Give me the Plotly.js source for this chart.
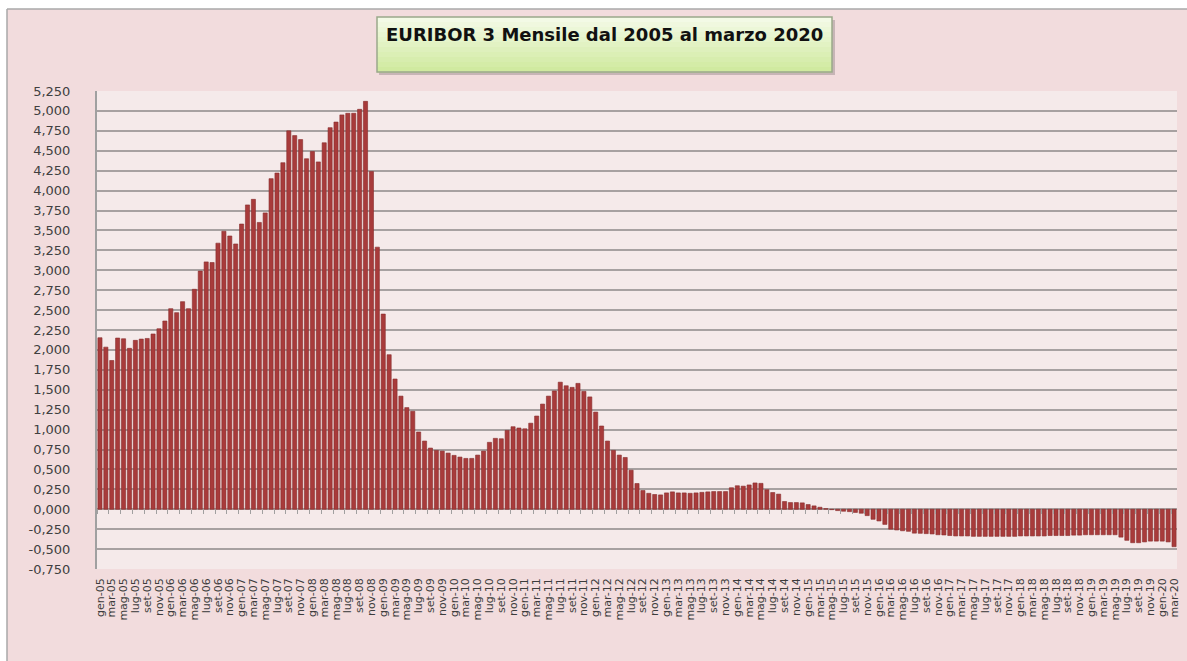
<!DOCTYPE html>
<html>
<head>
<meta charset="utf-8">
<script src="https://cdn.plot.ly/plotly-3.0.1.min.js"></script>
<style>
html,body{margin:0;padding:0;background:#ffffff;}
#chart{width:1187px;height:661px;}
</style>
</head>
<body>
<div id="chart"></div>
<script>
// ---- data ----
const monthNames = ['gen','feb','mar','apr','mag','giu','lug','ago','set','ott','nov','dic'];
const startYear = 2005;
const monthCount = 183; // gen-05 .. mar-20

const euribor3m = [
  2.153, 2.035, 1.867, 2.149, 2.140, 2.020, 2.120, 2.136, 2.144, 2.200, 2.266, 2.363,
  2.518, 2.468, 2.606, 2.518, 2.761, 2.990, 3.105, 3.097, 3.340, 3.490, 3.430, 3.330,
  3.580, 3.820, 3.890, 3.600, 3.720, 4.150, 4.220, 4.350, 4.750, 4.690, 4.640, 4.400,
  4.490, 4.360, 4.600, 4.790, 4.860, 4.950, 4.970, 4.970, 5.020, 5.120, 4.240, 3.290,
  2.450, 1.940, 1.635, 1.420, 1.276, 1.230, 0.970, 0.856, 0.768, 0.739, 0.730, 0.705,
  0.676, 0.655, 0.638, 0.638, 0.680, 0.730, 0.840, 0.890, 0.885, 0.990, 1.036, 1.020,
  1.010, 1.080, 1.170, 1.320, 1.420, 1.485, 1.595, 1.550, 1.530, 1.580, 1.480, 1.410,
  1.220, 1.045, 0.856, 0.739, 0.680, 0.650, 0.490, 0.323, 0.235, 0.200, 0.185, 0.180,
  0.205, 0.218, 0.205, 0.205, 0.200, 0.205, 0.212, 0.218, 0.222, 0.222, 0.222, 0.270,
  0.295, 0.290, 0.305, 0.330, 0.325, 0.245, 0.210, 0.190, 0.097, 0.084, 0.084, 0.080,
  0.059, 0.042, 0.025, 0.008, -0.005, -0.017, -0.025, -0.030, -0.040, -0.050, -0.080, -0.126,
  -0.147, -0.190, -0.250, -0.260, -0.270, -0.277, -0.300, -0.302, -0.306, -0.310, -0.320, -0.323,
  -0.330, -0.335, -0.335, -0.335, -0.340, -0.340, -0.340, -0.340, -0.340, -0.340, -0.340, -0.340,
  -0.335, -0.335, -0.335, -0.335, -0.335, -0.330, -0.330, -0.330, -0.330, -0.325, -0.325, -0.320,
  -0.320, -0.320, -0.320, -0.320, -0.320, -0.350, -0.390, -0.420, -0.420, -0.410, -0.400, -0.400,
  -0.400, -0.410, -0.470
];

const yTickValues = [-0.75,-0.5,-0.25,0,0.25,0.5,0.75,1,1.25,1.5,1.75,2,2.25,2.5,2.75,3,3.25,3.5,3.75,4,4.25,4.5,4.75,5,5.25];
const yTickLabels = ['-0,750','-0,500','-0,250','0,000','0,250','0,500','0,750','1,000','1,250','1,500','1,750','2,000','2,250','2,500','2,750','3,000','3,250','3,500','3,750','4,000','4,250','4,500','4,750','5,000','5,250'];

const chartTitle = 'EURIBOR 3 Mensile dal 2005 al marzo 2020';

// ---- build categories ----
const categories = [];
for (let i = 0; i < monthCount; i++) {
  const m = i % 12;
  const y = (startYear + Math.floor(i / 12)) % 100;
  categories.push(monthNames[m] + '-' + String(y).padStart(2, '0'));
}
const shownLabels = categories.filter((c, i) => i % 2 === 0);

// ---- layout geometry helpers (pixels -> paper) ----
const W = 1187, H = 661;
const mL = 97, mR = 10, mT = 91, mB = 92;
const pw = W - mL - mR, ph = H - mT - mB;
const px = v => (v - mL) / pw;
const py = v => (H - mB - v) / ph;

const yMin = -0.75, yMax = 5.25;

const trace = {
  type: 'bar',
  x: categories,
  y: euribor3m,
  marker: { color: '#a83b3b', line: { color: '#862c2c', width: 0.6 } },
  hoverinfo: 'x+y'
};

const shapes = [];
// white strips outside the frame
shapes.push({type:'rect', xref:'paper', yref:'paper', x0:px(-5), x1:px(7), y0:py(-5), y1:py(666), fillcolor:'#ffffff', line:{width:0}, layer:'above'});
shapes.push({type:'rect', xref:'paper', yref:'paper', x0:px(-5), x1:px(1195), y0:py(9), y1:py(-5), fillcolor:'#ffffff', line:{width:0}, layer:'above'});
shapes.push({type:'line', xref:'paper', yref:'paper', x0:px(7), x1:px(7), y0:py(9), y1:py(666), line:{color:'#a9a9a9', width:1.5}, layer:'above'});
shapes.push({type:'line', xref:'paper', yref:'paper', x0:px(7), x1:px(1195), y0:py(9), y1:py(9), line:{color:'#a9a9a9', width:1.5}, layer:'above'});
// shadow
shapes.push({type:'rect', xref:'paper', yref:'paper', x0:px(379), x1:px(835), y0:py(20), y1:py(75), fillcolor:'rgba(120,110,110,0.35)', line:{width:0}, layer:'above'});
// gradient title box
const bx0 = 377, bx1 = 832, by0 = 17, by1 = 72, steps = 11;
const c0 = [243, 250, 230], c1 = [208, 234, 160];
for (let s = 0; s < steps; s++) {
  const t = s / (steps - 1);
  const c = c0.map((v, k) => Math.round(v + (c1[k] - v) * t));
  const ya = by0 + (by1 - by0) * s / steps, yb = by0 + (by1 - by0) * (s + 1) / steps;
  shapes.push({type:'rect', xref:'paper', yref:'paper', x0:px(bx0), x1:px(bx1), y0:py(ya), y1:py(yb + 0.5),
    fillcolor:'rgb(' + c.join(',') + ')', line:{width:0}, layer:'above'});
}
shapes.push({type:'rect', xref:'paper', yref:'paper', x0:px(bx0), x1:px(bx1), y0:py(by0), y1:py(by1), fillcolor:'rgba(0,0,0,0)', line:{color:'#9aa88a', width:1.5}, layer:'above'});

const layout = {
  width: W, height: H,
  margin: { l: mL, r: mR, t: mT, b: mB, pad: 0 },
  paper_bgcolor: '#f2dcdd',
  plot_bgcolor: '#f5eaea',
  showlegend: false,
  bargap: 0.3,
  font: { family: 'DejaVu Sans, sans-serif', color: '#404040' },
  xaxis: {
    type: 'category',
    categoryorder: 'array', categoryarray: categories,
    range: [-0.5, monthCount - 0.5],
    tickmode: 'array', tickvals: shownLabels, ticktext: shownLabels,
    tickangle: -90,
    ticks: '', ticklabelstandoff: 6,
    tickfont: { size: 11, color: '#3c3c3c', family: 'DejaVu Sans, sans-serif' },
    showgrid: false, showline: false, zeroline: false, fixedrange: true
  },
  xaxis2: {
    overlaying: 'x', anchor: 'free',
    position: (0 - yMin) / (yMax - yMin),
    range: [-0.5, monthCount - 0.5],
    tickmode: 'linear', tick0: -0.5, dtick: 2,
    ticks: 'outside', ticklen: 4, tickwidth: 1, tickcolor: '#a0a0a0',
    showticklabels: false, showgrid: false, zeroline: false, showline: false
  },
  yaxis: {
    range: [yMin, yMax],
    tickmode: 'array', tickvals: yTickValues, ticktext: yTickLabels,
    tickfont: { size: 13, color: '#404040', family: 'DejaVu Sans, sans-serif' },
    ticks: '', ticklabelstandoff: 22,
    showgrid: true, gridcolor: '#a7a1a1', gridwidth: 2,
    zeroline: false,
    showline: true, linecolor: '#a0a0a0', linewidth: 2,
    fixedrange: true
  },
  shapes: shapes,
  annotations: [{
    xref: 'paper', yref: 'paper',
    x: px((bx0 + bx1) / 2), y: py(22),
    xanchor: 'center', yanchor: 'top',
    text: '<b>' + chartTitle + '</b>',
    showarrow: false,
    font: { family: 'DejaVu Sans, sans-serif', size: 18, color: '#111111' }
  }]
};

const dummy = { type: 'scatter', x: [0], y: [0], xaxis: 'x2', yaxis: 'y', mode: 'markers', marker: { opacity: 0 }, hoverinfo: 'skip' };

Plotly.newPlot('chart', [trace, dummy], layout, { displayModeBar: false, staticPlot: true });
</script>
</body>
</html>
